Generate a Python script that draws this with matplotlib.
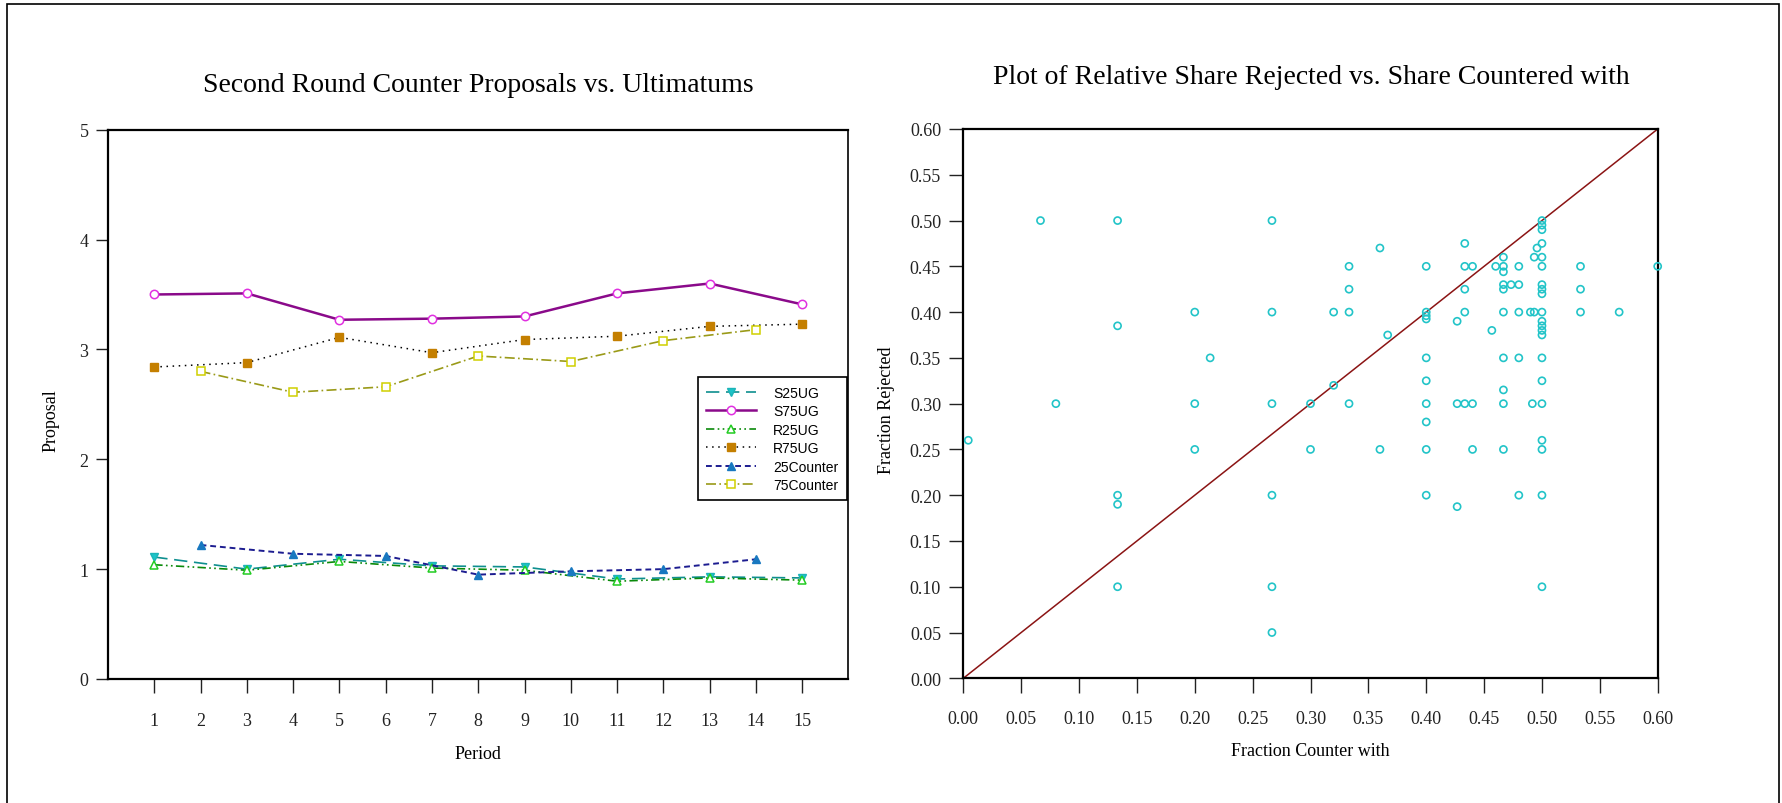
"""Counter proposals vs. ultimatums, and share rejected vs. share countered."""
import numpy as np
import matplotlib
matplotlib.use("Agg")
import matplotlib.pyplot as plt
from matplotlib.patches import Rectangle

plt.rcParams["font.family"] = ["Liberation Serif", "DejaVu Serif"]

# ── Left panel: mean proposal by period ──────────────────────────────
periods_odd = [1, 3, 5, 7, 9, 11, 13, 15]
periods_even = [2, 4, 6, 8, 10, 12, 14]

s25ug = [1.11, 1.00, 1.09, 1.03, 1.02, 0.91, 0.93, 0.92]
s75ug = [3.50, 3.51, 3.27, 3.28, 3.30, 3.51, 3.60, 3.41]
r25ug = [1.04, 0.99, 1.07, 1.01, 0.99, 0.89, 0.92, 0.90]
r75ug = [2.84, 2.88, 3.11, 2.97, 3.09, 3.12, 3.21, 3.23]
counter25 = [1.22, 1.14, 1.12, 0.95, 0.98, 1.00, 1.09]
counter75 = [2.80, 2.61, 2.66, 2.94, 2.89, 3.08, 3.18]

# ── Right panel: fraction countered with vs. fraction rejected ───────
share_countered = [
    0.0043, 0.0667, 0.08,
    0.1333, 0.1333, 0.1333, 0.1333, 0.1333,
    0.20, 0.20, 0.20, 0.2133,
    0.2667, 0.2667, 0.2667, 0.2667, 0.2667, 0.2667,
    0.30, 0.30, 0.32, 0.32,
    0.3333, 0.3333, 0.3333, 0.3333,
    0.36, 0.36, 0.3667,
    0.40, 0.40, 0.40, 0.40, 0.40, 0.40, 0.40, 0.40, 0.40, 0.40,
    0.4267, 0.4267, 0.4267,
    0.4333, 0.4333, 0.4333, 0.4333, 0.4333,
    0.44, 0.44, 0.44, 0.4567, 0.46,
    0.4667, 0.4667, 0.4667, 0.4667, 0.4667, 0.4667, 0.4667, 0.4667, 0.4667, 0.4667,
    0.4733,
    0.48, 0.48, 0.48, 0.48, 0.48,
    0.49, 0.4917, 0.4933, 0.4933, 0.4957,
    0.50, 0.50, 0.50, 0.50, 0.50, 0.50, 0.50, 0.50, 0.50, 0.50, 0.50,
    0.50, 0.50, 0.50, 0.50, 0.50, 0.50, 0.50, 0.50, 0.50, 0.50,
    0.5333, 0.5333, 0.5333, 0.5667, 0.60,
]
frac_rejected = [
    0.26, 0.50, 0.30,
    0.50, 0.385, 0.20, 0.19, 0.10,
    0.40, 0.30, 0.25, 0.35,
    0.50, 0.40, 0.30, 0.20, 0.10, 0.05,
    0.30, 0.25, 0.40, 0.32,
    0.45, 0.425, 0.40, 0.30,
    0.47, 0.25, 0.375,
    0.45, 0.40, 0.396, 0.3925, 0.35, 0.325, 0.30, 0.28, 0.25, 0.20,
    0.39, 0.30, 0.1875,
    0.475, 0.45, 0.425, 0.40, 0.30,
    0.45, 0.30, 0.25, 0.38, 0.45,
    0.46, 0.45, 0.444, 0.43, 0.425, 0.40, 0.35, 0.315, 0.30, 0.25,
    0.43,
    0.45, 0.43, 0.40, 0.35, 0.20,
    0.40, 0.30, 0.46, 0.40, 0.47,
    0.50, 0.495, 0.49, 0.475, 0.46, 0.45, 0.43, 0.425, 0.42, 0.40, 0.39,
    0.385, 0.38, 0.375, 0.35, 0.325, 0.30, 0.26, 0.25, 0.20, 0.10,
    0.45, 0.425, 0.40, 0.40, 0.45,
]

W, H = 1783, 804
fig = plt.figure(figsize=(W / 100, H / 100), dpi=100)

# outer frame of the page
fig.patches.append(Rectangle((7 / W, -0.05), 1772 / W, 1.05 - 4.7 / H,
                             transform=fig.transFigure, fill=False,
                             edgecolor="black", linewidth=1.2))


def px_axes(x0, y0, x1, y1):
    return fig.add_axes([x0 / W, 1 - y1 / H, (x1 - x0) / W, (y1 - y0) / H])


# ── Left chart ────────────────────────────────────────────────────────
ax1 = px_axes(108, 130.7, 848.5, 680)
ax1.plot(periods_odd, s25ug, color="#0e8f8f", lw=1.2, ls=(0, (8, 4)),
         marker="v", ms=6, mfc="#1cc4c8", mec="#1cb4b8", label="S25UG")
ax1.plot(periods_odd, s75ug, color="#8a0a8a", lw=1.8, ls="-",
         marker="o", ms=6, mfc="white", mec="#e030e0", mew=1.1, label="S75UG")
ax1.plot(periods_odd, r25ug, color="#0a8a0a", lw=1.2, ls=(0, (5, 2, 1, 2, 1, 2)),
         marker="^", ms=6, mfc="white", mec="#22cc22", mew=1.1, label="R25UG")
ax1.plot(periods_odd, r75ug, color="black", lw=1.1, ls=(0, (1, 3)),
         marker="s", ms=6, mfc="#c47f00", mec="#c47f00", label="R75UG")
ax1.plot(periods_even, counter25, color="#1c1c90", lw=1.4, ls=(0, (3, 2)),
         marker="^", ms=6, mfc="#1878c0", mec="#1878c0", label="25Counter")
ax1.plot(periods_even, counter75, color="#9a9a18", lw=1.2, ls=(0, (6, 2, 1, 2)),
         marker="s", ms=6, mfc="white", mec="#d0d000", mew=1.1, label="75Counter")

ax1.set_xlim(0, 16)
ax1.set_ylim(0, 5)
ax1.set_xticks(range(1, 16))
ax1.set_yticks(range(0, 6))
ax1.tick_params(axis="x", length=10, width=1, pad=14, labelsize=13, colors="#222")
ax1.tick_params(axis="y", length=9, width=1, pad=5, labelsize=13, colors="#222")
for s in ax1.spines.values():
    s.set_linewidth(1.6)
ax1.spines["right"].set_linewidth(1.2)

ax1.set_xlabel("Period", fontsize=13)
ax1.xaxis.label.set_va("center")
ax1.xaxis.set_label_coords(0.5, -0.135)
ax1.set_ylabel("Proposal", fontsize=13)
ax1.yaxis.label.set_va("center")
ax1.yaxis.set_label_coords(-0.077, 0.472)

leg = ax1.legend(loc="upper right", bbox_to_anchor=(0.9976, 0.549),
                 borderaxespad=0, fancybox=False, framealpha=1,
                 edgecolor="black", prop={"family": "Liberation Sans", "size": 10},
                 handlelength=3.6, handletextpad=1.2, labelspacing=0.32,
                 borderpad=0.6)
leg.get_frame().set_linewidth(1.2)

fig.text(478 / W, 1 - 92 / H, "Second Round Counter Proposals vs. Ultimatums",
         ha="center", va="baseline", fontsize=20)

# ── Right chart ───────────────────────────────────────────────────────
ax2 = px_axes(963.3, 130, 1657.7, 679.3)
ax2.plot([0, 0.6], [0, 0.6], color="#8b1414", lw=1.1)
ax2.scatter(share_countered, frac_rejected, s=26, facecolors="none",
            edgecolors="#22c4c8", linewidths=1.2, clip_on=False, zorder=3)

ticks = np.arange(0, 0.601, 0.05)
ax2.set_xlim(0, 0.6)
ax2.set_ylim(0, 0.6)
ax2.set_xticks(ticks)
ax2.set_yticks(ticks)
ax2.set_xticklabels([f"{t:.2f}" for t in ticks])
ax2.set_yticklabels([f"{t:.2f}" for t in ticks])
ax2.tick_params(axis="x", length=11, width=1, pad=12, labelsize=13, colors="#222")
ax2.tick_params(axis="y", length=10, width=1, pad=6, labelsize=13, colors="#222")
for s in ax2.spines.values():
    s.set_linewidth(1.6)

ax2.set_xlabel("Fraction Counter with", fontsize=13)
ax2.xaxis.label.set_va("center")
ax2.xaxis.set_label_coords(0.5, -0.132)
ax2.set_ylabel("Fraction Rejected", fontsize=13)
ax2.yaxis.label.set_va("center")
ax2.yaxis.set_label_coords(-0.11, 0.49)

fig.text(1311 / W, 1 - 84 / H, "Plot of Relative Share Rejected vs. Share Countered with",
         ha="center", va="baseline", fontsize=20)

fig.savefig("out.png", dpi=100)
